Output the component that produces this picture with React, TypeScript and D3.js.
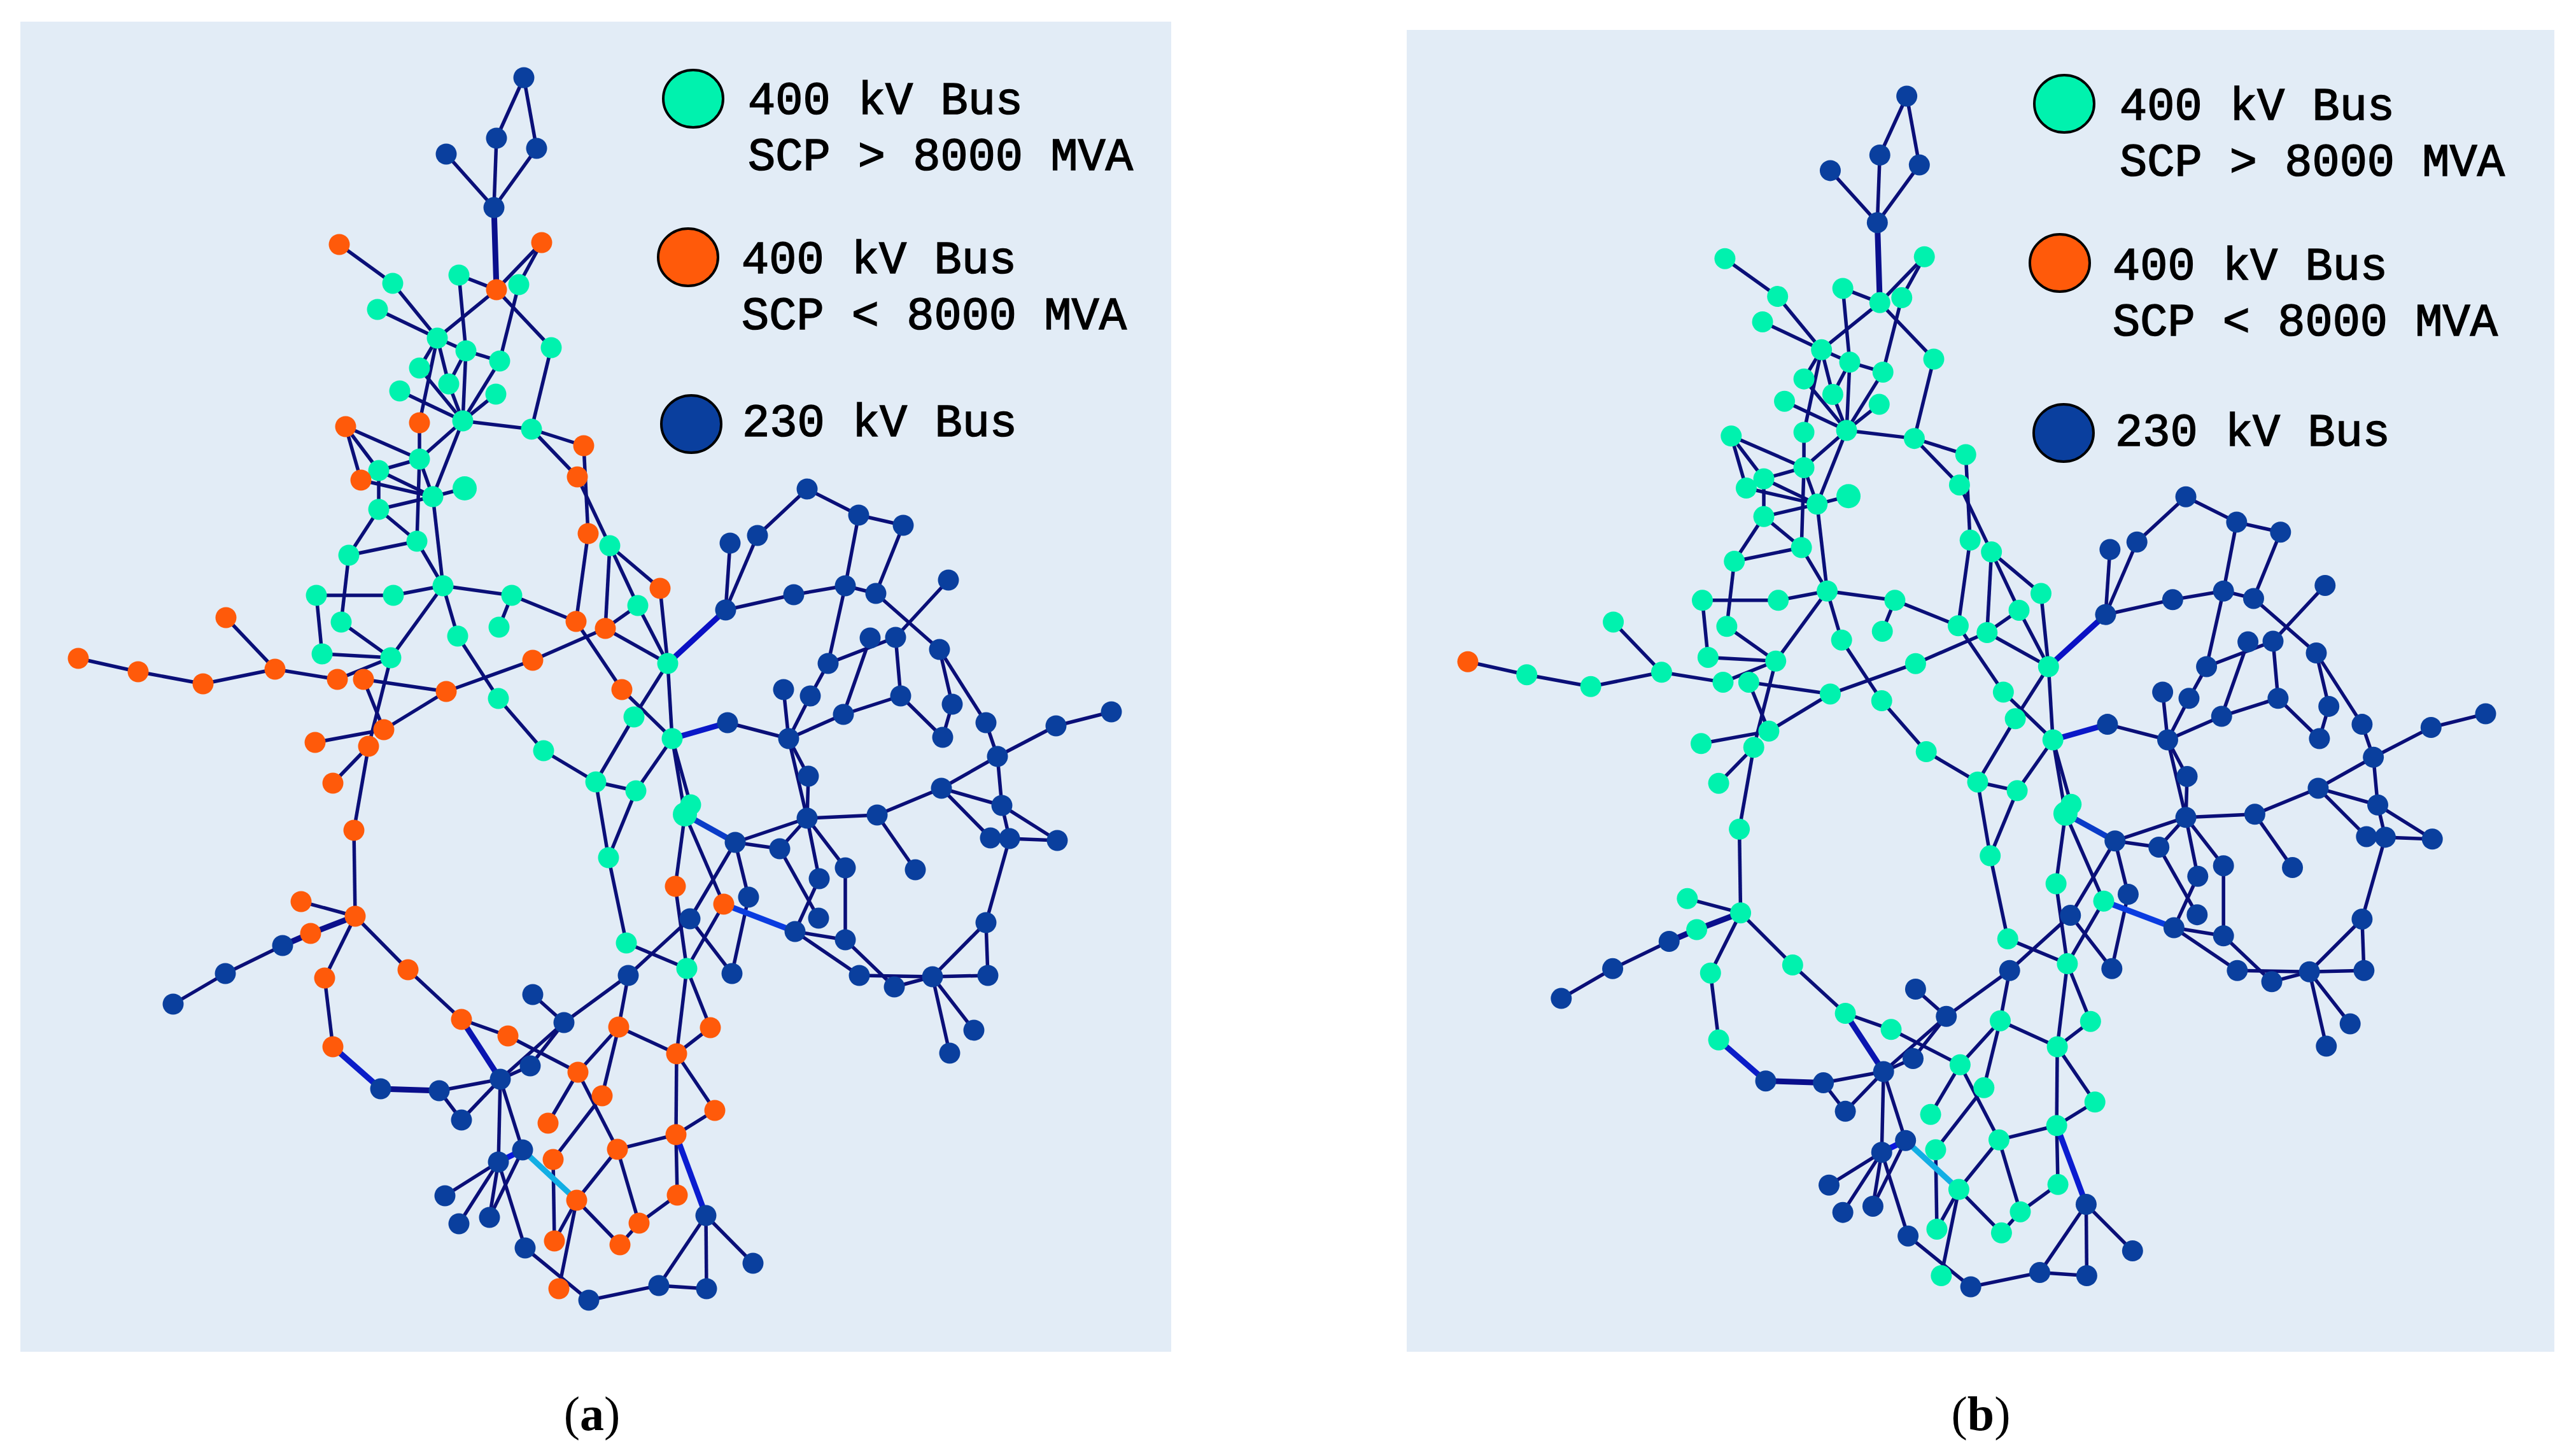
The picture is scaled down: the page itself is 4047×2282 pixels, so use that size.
import React, {useEffect, useRef} from 'react';
import * as d3 from 'd3';

// bus positions
const buses: Record<number, [number, number]> = {
    1: [823, 122], 2: [780, 217], 3: [843, 233], 4: [701, 242], 5: [776, 326], 6: [533, 384], 7: [851, 381],
    8: [721, 432], 9: [780, 455], 10: [815, 447], 11: [617, 445], 12: [593, 486], 13: [687, 531], 14: [732, 551],
    15: [785, 567], 16: [866, 546], 17: [659, 578], 18: [705, 603], 19: [628, 614], 20: [779, 619], 21: [727, 661],
    22: [659, 664], 23: [835, 674], 24: [543, 670], 25: [917, 700], 26: [659, 721], 27: [595, 739], 28: [567, 754],
    29: [907, 749], 30: [680, 780], 31: [730, 767], 32: [595, 800], 33: [655, 850], 34: [924, 838], 35: [958, 857],
    36: [548, 872], 37: [696, 920], 38: [497, 935], 39: [618, 935], 40: [804, 935], 41: [905, 976], 42: [951, 987],
    43: [536, 977], 44: [784, 985], 45: [1002, 951], 46: [1037, 924], 47: [355, 970], 48: [123, 1034], 49: [217, 1055],
    50: [319, 1074], 51: [432, 1051], 52: [530, 1067], 53: [571, 1067], 54: [506, 1027], 55: [614, 1033], 56: [719, 999],
    57: [837, 1037], 58: [1049, 1042], 59: [701, 1086], 60: [783, 1097], 61: [977, 1083], 62: [603, 1146], 63: [495, 1166],
    64: [579, 1172], 65: [523, 1230], 66: [854, 1179], 67: [936, 1228], 68: [999, 1242], 69: [996, 1126], 70: [1056, 1160],
    71: [1085, 1264], 72: [1076, 1279], 73: [956, 1347], 74: [556, 1304], 75: [473, 1416], 76: [558, 1439], 77: [488, 1466],
    78: [444, 1485], 79: [354, 1529], 80: [272, 1577], 81: [510, 1536], 82: [641, 1523], 83: [523, 1644], 84: [725, 1601],
    85: [798, 1627], 86: [837, 1562], 87: [886, 1606], 88: [984, 1481], 89: [1079, 1521], 90: [987, 1532], 91: [1150, 1529],
    92: [1061, 1392], 93: [1137, 1420], 94: [1084, 1443], 95: [1268, 768], 96: [1349, 809], 97: [1419, 825], 98: [1190, 841],
    99: [1147, 853], 100: [1140, 958], 101: [1247, 934], 102: [1328, 920], 103: [1376, 932], 104: [1490, 911], 105: [1476, 1020],
    106: [1407, 1001], 107: [1367, 1002], 108: [1301, 1042], 109: [1273, 1093], 110: [1231, 1083], 111: [1415, 1093],
    112: [1325, 1122], 113: [1496, 1106], 114: [1549, 1135], 115: [1143, 1135], 116: [1239, 1160], 117: [1481, 1158],
    118: [1567, 1188], 119: [1659, 1140], 120: [1746, 1118], 121: [1270, 1219], 122: [1479, 1238], 123: [1574, 1265],
    124: [1268, 1285], 125: [1378, 1280], 126: [1155, 1323], 127: [1225, 1333], 128: [1556, 1316], 129: [1586, 1317],
    130: [1661, 1320], 131: [1328, 1363], 132: [1438, 1366], 133: [1287, 1380], 134: [1176, 1409], 135: [1286, 1442],
    136: [1249, 1463], 137: [1328, 1476], 138: [1549, 1449], 139: [1350, 1532], 140: [1405, 1550], 141: [1465, 1534],
    142: [1552, 1532], 143: [1492, 1654], 144: [1530, 1618], 145: [972, 1613], 146: [1116, 1614], 147: [1063, 1655],
    148: [833, 1674], 149: [908, 1684], 150: [786, 1695], 151: [946, 1721], 152: [598, 1710], 153: [690, 1713],
    154: [725, 1759], 155: [1123, 1744], 156: [861, 1764], 157: [1062, 1782], 158: [970, 1805], 159: [821, 1806],
    160: [869, 1821], 161: [783, 1825], 162: [906, 1885], 163: [1064, 1877], 164: [1109, 1909], 165: [699, 1878],
    166: [721, 1922], 167: [769, 1912], 168: [1004, 1921], 169: [871, 1949], 170: [974, 1955], 171: [825, 1960],
    172: [1183, 1984], 173: [1035, 2019], 174: [1110, 2024], 175: [878, 2024], 176: [925, 2042],
};

// 230 kV buses, same in both panels
const blueBuses = [
    1, 2, 3, 4, 5, 78, 79, 80, 86, 87, 90, 91, 94, 95, 96, 97, 98, 99, 100, 101, 102, 103, 104, 105, 106, 107, 108, 109, 110,
    111, 112, 113, 114, 115, 116, 117, 118, 119, 120, 121, 122, 123, 124, 125, 126, 127, 128, 129, 130, 131, 132, 133, 134,
    135, 136, 137, 138, 139, 140, 141, 142, 143, 144, 148, 150, 152, 153, 154, 159, 161, 164, 165, 166, 167, 171, 172, 173,
    174, 176,
];

// 400 kV buses under 8000 MVA per panel, the rest of the 400 kV buses are above it
const orangeA = [
    6, 7, 9, 22, 24, 25, 28, 29, 34, 41, 42, 46, 47, 48, 49, 50, 51, 52, 53, 57, 59, 61, 62, 63, 64, 65, 74, 75, 76, 77, 81,
    82, 83, 84, 85, 92, 93, 145, 146, 147, 149, 151, 155, 156, 157, 158, 160, 162, 163, 168, 169, 170, 175,
];
const orangeB = [48];

// these two are drawn a little larger in the source
const largeBuses = [31, 72];

const lines: [number, number][] = [
    [1, 2], [1, 3], [2, 5], [3, 5], [4, 5], [6, 11], [11, 13], [12, 13], [13, 9], [8, 9], [8, 14], [9, 7], [10, 7], [10, 15],
    [9, 16], [16, 23], [13, 14], [14, 15], [13, 17], [13, 18], [14, 18], [13, 22], [14, 21], [15, 21], [20, 21], [18, 21],
    [17, 21], [19, 21], [21, 23], [23, 25], [23, 29], [21, 26], [21, 30], [22, 26], [24, 26], [24, 27], [24, 28], [26, 27],
    [27, 30], [28, 30], [26, 30], [26, 33], [27, 32], [32, 30], [30, 31], [30, 37], [32, 33], [32, 36], [33, 36], [33, 37],
    [36, 43], [37, 39], [38, 39], [37, 40], [25, 34], [29, 35], [34, 41], [35, 42], [35, 45], [35, 46], [46, 58], [45, 58],
    [42, 45], [42, 58], [98, 95], [95, 96], [96, 97], [97, 103], [96, 102], [102, 108], [100, 99], [100, 98], [100, 101],
    [101, 102], [102, 103], [103, 105], [105, 114], [105, 113], [113, 117], [104, 106], [106, 108], [107, 112], [106, 111],
    [111, 112], [112, 116], [111, 117], [108, 109], [109, 116], [110, 116], [115, 116], [116, 121], [116, 124], [121, 124],
    [124, 125], [125, 122], [122, 118], [122, 123], [122, 128], [114, 118], [118, 119], [119, 120], [118, 123], [123, 129],
    [123, 130], [129, 130], [128, 129], [129, 138], [125, 132], [124, 126], [124, 127], [126, 127], [124, 131], [124, 133],
    [131, 137], [127, 135], [133, 136], [136, 137], [136, 139], [137, 140], [139, 141], [140, 141], [141, 142], [141, 138],
    [138, 142], [141, 143], [141, 144], [58, 70], [58, 69], [69, 67], [67, 68], [68, 70], [61, 70], [41, 61], [42, 57],
    [57, 59], [59, 53], [59, 62], [70, 72], [70, 71], [72, 92], [92, 89], [72, 93], [93, 89], [126, 94], [126, 134], [134, 91],
    [94, 91], [94, 90], [88, 89], [67, 73], [68, 73], [73, 88], [90, 87], [90, 145], [89, 146], [89, 147], [47, 51], [48, 49],
    [49, 50], [50, 51], [51, 52], [52, 55], [53, 62], [54, 55], [43, 55], [38, 54], [37, 55], [37, 56], [56, 60], [60, 66],
    [66, 67], [40, 44], [40, 41], [55, 64], [62, 63], [64, 65], [64, 74], [74, 76], [75, 76], [78, 79], [79, 80], [76, 81],
    [76, 82], [81, 83], [153, 150], [153, 154], [154, 150], [82, 84], [84, 85], [85, 149], [150, 87], [150, 148], [148, 87],
    [86, 87], [145, 147], [146, 147], [145, 149], [145, 151], [147, 155], [147, 157], [155, 157], [149, 156], [149, 158],
    [151, 160], [158, 157], [158, 162], [158, 168], [168, 163], [163, 157], [162, 170], [170, 168], [162, 169], [162, 175],
    [160, 169], [150, 161], [150, 159], [161, 165], [161, 166], [161, 167], [159, 167], [161, 171], [171, 176], [176, 173],
    [173, 174], [173, 164], [164, 174], [164, 172],
];

// heavily loaded lines: from, to, colour
const loadedLines: [number, number, string][] = [
    [5, 9, '#0a0f8c'], [58, 100, '#0a10c4'], [70, 115, '#0a18c8'], [72, 126, '#0a3cc8'], [93, 136, '#0a3ce0'],
    [76, 77, '#0a0f8c'], [77, 78, '#0a0f8c'], [83, 152, '#0a1cc8'], [152, 153, '#0a0f8c'], [84, 150, '#0a14b0'],
    [159, 161, '#0a18e0'], [159, 162, '#12aee4'], [157, 164, '#0a1cd0'],
];

const legendLabels = [
    ['400 kV Bus', 'SCP > 8000 MVA'],
    ['400 kV Bus', 'SCP < 8000 MVA'],
    ['230 kV Bus'],
];

const GREEN = '#00f2ae';
const ORANGE = '#ff5a0a';
const BLUE = '#0a3f9e';
const legendColors = [GREEN, ORANGE, BLUE];

const xDomain = [123, 1746];
const yDomain = [122, 2042];

const panels = [
    {
        name: 'a', caption: 'a', orange: orangeA,
        box: {x0: 32, y0: 34, x1: 1840, y1: 2123},
        xRange: [123, 1746], yRange: [122, 2042],
        captionX: 930,
        legend: [
            {cx: 1089, cy: 155, tx: 1175, ty: 179},
            {cx: 1081, cy: 404, tx: 1165, ty: 429},
            {cx: 1086, cy: 666, tx: 1166, ty: 685},
        ],
    },
    {
        name: 'b', caption: 'b', orange: orangeB,
        box: {x0: 2210, y0: 47, x1: 4013, y1: 2123},
        xRange: [2306, 3905], yRange: [151, 2021],
        captionX: 3112,
        legend: [
            {cx: 3243, cy: 163, tx: 3330, ty: 188},
            {cx: 3236, cy: 413, tx: 3319, ty: 439},
            {cx: 3242, cy: 680, tx: 3323, ty: 700},
        ],
    },
];

const App = () => {
    const svgRef = useRef(null);

    useEffect(() => {
        const svg = d3.select(svgRef.current);
        svg.selectAll('*').remove();
        const ids = Object.keys(buses).map(Number);

        panels.forEach((panel) => {
            const g = svg.append('g').attr('class', `panel-${panel.name}`);
            const x = d3.scaleLinear().domain(xDomain).range(panel.xRange);
            const y = d3.scaleLinear().domain(yDomain).range(panel.yRange);
            const lineGen = d3.line<number>().x((d) => x(buses[d][0])).y((d) => y(buses[d][1]));

            g.append('rect')
                .attr('x', panel.box.x0)
                .attr('y', panel.box.y0)
                .attr('width', panel.box.x1 - panel.box.x0)
                .attr('height', panel.box.y1 - panel.box.y0)
                .attr('fill', '#e2ecf6');

            // Draw lines
            g.selectAll('.line')
                .data(lines)
                .join('path')
                .attr('class', 'line')
                .attr('d', (d) => lineGen(d))
                .attr('fill', 'none')
                .attr('stroke', '#0a0f78')
                .attr('stroke-width', 5.5);

            g.selectAll('.loaded')
                .data(loadedLines)
                .join('path')
                .attr('class', 'loaded')
                .attr('d', (d) => lineGen([d[0], d[1]]))
                .attr('fill', 'none')
                .attr('stroke', (d) => d[2])
                .attr('stroke-width', 9);

            // Draw buses
            g.selectAll('.bus')
                .data(ids)
                .join('circle')
                .attr('class', 'bus')
                .attr('cx', (d) => x(buses[d][0]))
                .attr('cy', (d) => y(buses[d][1]))
                .attr('r', (d) => (largeBuses.includes(d) ? 19 : 16.5))
                .attr('fill', (d) => {
                    if (blueBuses.includes(d)) return BLUE;
                    return panel.orange.includes(d) ? ORANGE : GREEN;
                });

            // Legend
            panel.legend.forEach((item, i) => {
                g.append('ellipse')
                    .attr('cx', item.cx)
                    .attr('cy', item.cy)
                    .attr('rx', 47)
                    .attr('ry', 45)
                    .attr('fill', legendColors[i])
                    .attr('stroke', '#000')
                    .attr('stroke-width', 4);
                legendLabels[i].forEach((label, j) => {
                    g.append('text')
                        .attr('x', item.tx)
                        .attr('y', item.ty + j * 88)
                        .attr('xml:space', 'preserve')
                        .attr('font-family', '"Liberation Mono", monospace')
                        .attr('font-size', 72)
                        .attr('fill', '#000')
                        .attr('stroke', '#000')
                        .attr('stroke-width', 1.6)
                        .text(label);
                });
            });

            const caption = g.append('text')
                .attr('x', panel.captionX)
                .attr('y', 2246)
                .attr('text-anchor', 'middle')
                .attr('font-family', '"Liberation Serif", serif')
                .attr('font-size', 76)
                .attr('fill', '#000');
            caption.append('tspan').text('(');
            caption.append('tspan').attr('font-weight', 'bold').text(panel.caption);
            caption.append('tspan').text(')');
        });
    }, []);

    return (
        <svg
            ref={svgRef}
            width={4047}
            height={2282}
            style={{position: 'absolute', left: 0, top: 0, background: '#fff', display: 'block'}}
        />
    );
};

export default App;
